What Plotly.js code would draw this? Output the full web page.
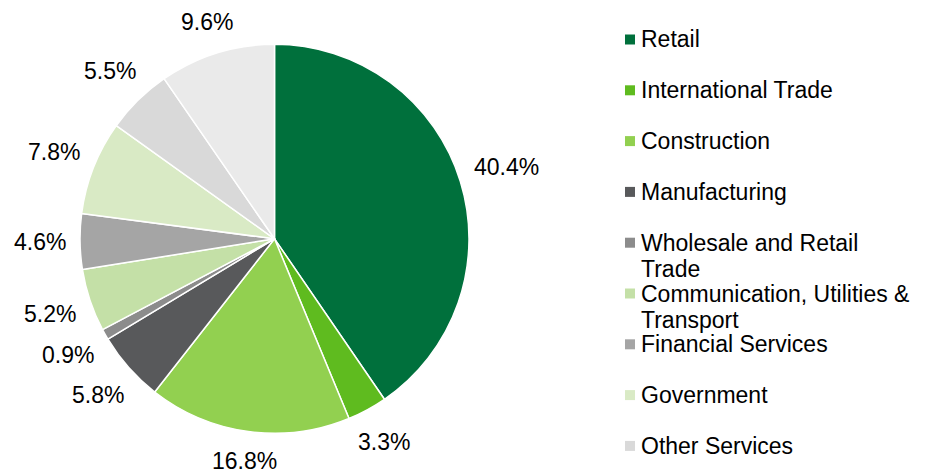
<!DOCTYPE html>
<html>
<head>
<meta charset="utf-8">
<script src="https://cdn.plot.ly/plotly-3.0.1.min.js"></script>
<style>
  html, body { margin: 0; padding: 0; background: white; }
  #plotDiv { width: 926px; height: 471px; }
</style>
</head>
<body>
<div id="plotDiv"></div>
<script>
// slices, clockwise from 12 o'clock
var labels = ['Retail', 'International Trade', 'Construction', 'Manufacturing',
    'Wholesale and Retail Trade', 'Communication, Utilities & Transport',
    'Financial Services', 'Government', 'Other Services', 'Other'];
var values = [40.4, 3.3, 16.8, 5.8, 0.9, 5.2, 4.6, 7.8, 5.5, 9.6];
var colors = ['#00703c', '#5fbb1f', '#92d050', '#58595b', '#8c8c8c',
    '#c4e0a7', '#a5a5a5', '#d9eac5', '#d9d9d9', '#eaeaea'];

// legend text as it wraps in the picture (last slice has no entry)
var legendText = ['Retail', 'International Trade', 'Construction', 'Manufacturing',
    'Wholesale and Retail\nTrade', 'Communication, Utilities &\nTransport',
    'Financial Services', 'Government', 'Other Services'];

var W = 926, H = 471;
var FONT_FAMILY = 'Liberation Sans, Arial, sans-serif';
var font = { family: FONT_FAMILY, size: 23, color: '#000000' };

// pie geometry (pixels)
var cx = 274.5, cy = 238.8, R = 194.5;

function textWidth(s) {
    var ctx = document.createElement('canvas').getContext('2d');
    ctx.font = font.size + 'px ' + FONT_FAMILY;
    return ctx.measureText(s).width;
}

function drawPlot() {
    var data = [{
        type: 'pie',
        labels: labels,
        values: values,
        sort: false,
        direction: 'clockwise',
        rotation: 0,
        marker: { colors: colors, line: { color: 'white', width: 1.5 } },
        textinfo: 'none',
        hoverinfo: 'label+value',
        domain: { x: [(cx - R) / W, (cx + R) / W], y: [1 - (cy + R) / H, 1 - (cy - R) / H] },
        showlegend: false
    }];

    var shapes = [];
    var annotations = [];

    // percentage labels just outside each slice, excel style
    var total = values.reduce((a, b) => a + b, 0);
    var cum = 0;
    var gap = 14;
    for (let i = 0; i < values.length; i++) {
        let mid = (cum + values[i] / 2) / total * 2 * Math.PI;
        cum += values[i];
        let dx = Math.sin(mid), dy = -Math.cos(mid);
        let txt = values[i].toFixed(1) + '%';
        let w = textWidth(txt), h = 22;
        let d = R + gap + Math.abs(dx) * w / 2 + Math.abs(dy) * h / 2;
        annotations.push({
            xref: 'paper', yref: 'paper',
            x: (cx + dx * d) / W, y: 1 - (cy + dy * d) / H,
            xanchor: 'center', yanchor: 'middle',
            showarrow: false, text: txt, font: font
        });
    }

    // hand-made legend, one row every ~51px
    var top = 39.5, step = 50.8, lineStep = 26.5;
    for (let i = 0; i < legendText.length; i++) {
        let yc = top + i * step;
        shapes.push({
            type: 'rect', xref: 'paper', yref: 'paper',
            x0: 625 / W, x1: 635 / W,
            y0: 1 - (yc + 5) / H, y1: 1 - (yc - 5) / H,
            fillcolor: colors[i], line: { width: 0 }
        });
        legendText[i].split('\n').forEach(function (line, k) {
            annotations.push({
                xref: 'paper', yref: 'paper',
                x: 639 / W, y: 1 - (yc + k * lineStep) / H,
                xanchor: 'left', yanchor: 'middle', align: 'left',
                showarrow: false,
                text: line,
                font: font
            });
        });
    }

    var layout = {
        width: W,
        height: H,
        margin: { l: 0, r: 0, t: 0, b: 0 },
        paper_bgcolor: 'white',
        showlegend: false,
        font: font,
        shapes: shapes,
        annotations: annotations
    };

    Plotly.newPlot('plotDiv', data, layout, { displayModeBar: false, staticPlot: true });
}

drawPlot();
</script>
</body>
</html>
